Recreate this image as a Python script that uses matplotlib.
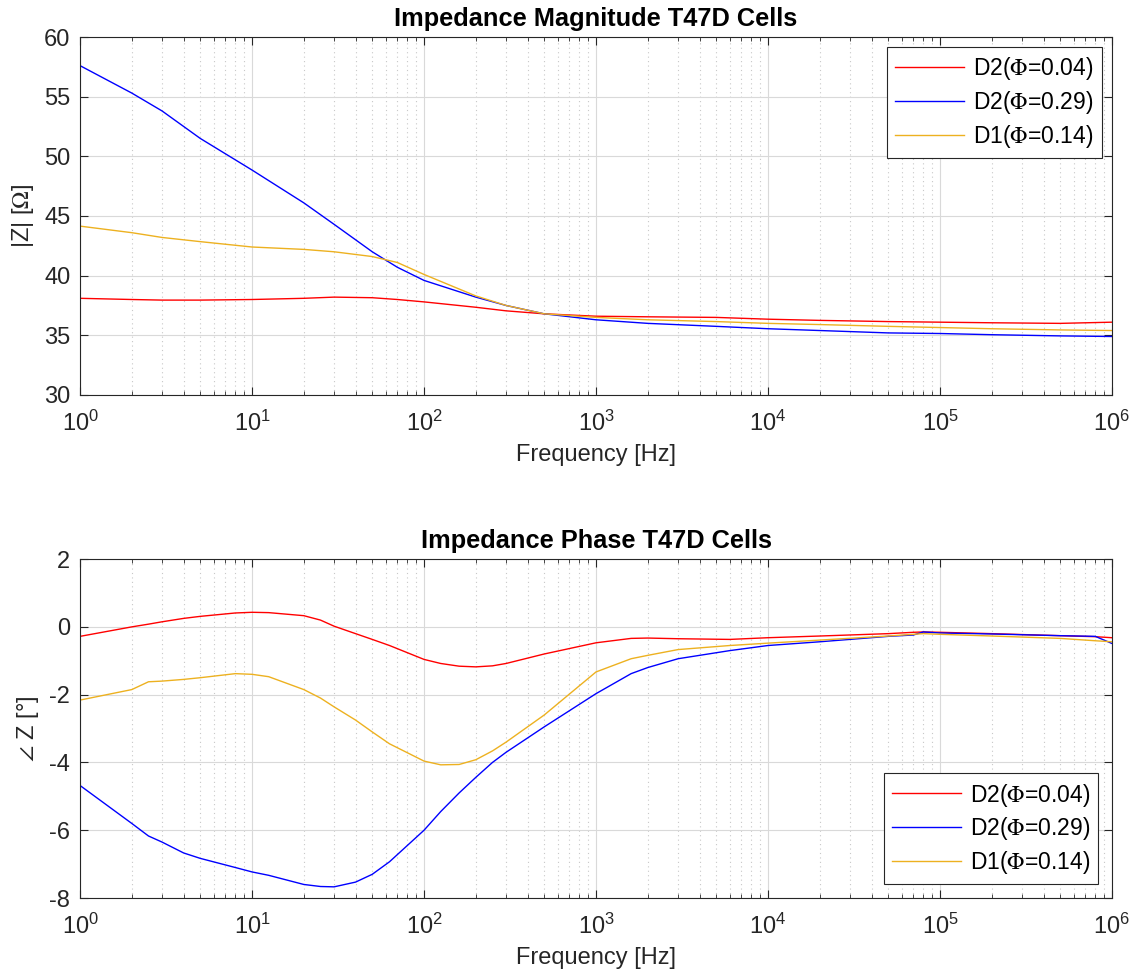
import matplotlib
matplotlib.use("Agg")
import matplotlib.pyplot as plt
from matplotlib.ticker import LogLocator, NullFormatter, MultipleLocator

plt.rcParams['font.family'] = ['Liberation Sans', 'DejaVu Sans']
plt.rcParams['mathtext.fontset'] = 'stix'
plt.rcParams['axes.unicode_minus'] = False

# ---------------- data ----------------
mag_freq = [1, 2, 3, 5, 10, 20, 30, 50, 70, 100, 200, 300, 500, 1e3, 2e3,
            5e3, 1e4, 2e4, 5e4, 1e5, 2e5, 5e5, 1e6]
mag_d2_004 = [38.1, 38.0, 37.95, 37.95, 38.0, 38.1, 38.2, 38.15, 38.0, 37.8, 37.35,
              37.05, 36.8, 36.6, 36.55, 36.5, 36.35, 36.25, 36.15, 36.1, 36.05, 36.0, 36.1]
mag_d2_029 = [57.6, 55.3, 53.8, 51.5, 48.85, 46.1, 44.3, 42.0, 40.7, 39.6, 38.2,
              37.5, 36.8, 36.3, 36.0, 35.75, 35.55, 35.4, 35.2, 35.15, 35.05, 34.95, 34.9]
mag_d1_014 = [44.15, 43.6, 43.2, 42.85, 42.4, 42.2, 42.0, 41.6, 41.1, 40.1, 38.3,
              37.5, 36.8, 36.5, 36.3, 36.15, 36.0, 35.9, 35.75, 35.65, 35.55, 35.45, 35.4]

ph_freq = [1, 2, 2.5, 3, 4, 5, 8, 10, 12.5, 20, 25, 30, 40, 50, 63, 100, 125, 160,
           200, 250, 300, 500, 1e3, 1.6e3, 2e3, 3e3, 6e3, 1e4, 2e4, 5e4, 7e4, 8e4,
           1e5, 2e5, 5e5, 8e5, 1e6]
ph_d2_004 = [-0.28, 0.0, 0.08, 0.15, 0.25, 0.31, 0.41, 0.43, 0.42, 0.33, 0.2, 0.02,
             -0.2, -0.37, -0.55, -0.96, -1.08, -1.16, -1.18, -1.15, -1.08, -0.8, -0.47,
             -0.34, -0.33, -0.35, -0.37, -0.32, -0.27, -0.2, -0.16, -0.15, -0.16, -0.2,
             -0.26, -0.29, -0.32]
ph_d2_029 = [-4.68, -5.8, -6.17, -6.35, -6.67, -6.83, -7.1, -7.23, -7.33, -7.6, -7.66,
             -7.67, -7.53, -7.3, -6.93, -6.0, -5.45, -4.9, -4.44, -4.0, -3.7, -2.95,
             -1.97, -1.38, -1.2, -0.94, -0.7, -0.55, -0.44, -0.28, -0.24, -0.15, -0.18,
             -0.21, -0.26, -0.28, -0.49]
ph_d1_014 = [-2.16, -1.85, -1.62, -1.6, -1.55, -1.5, -1.38, -1.40, -1.47, -1.85, -2.1,
             -2.36, -2.75, -3.1, -3.45, -3.96, -4.07, -4.06, -3.92, -3.66, -3.4, -2.6,
             -1.33, -0.94, -0.84, -0.67, -0.55, -0.48, -0.39, -0.27, -0.22, -0.2, -0.22,
             -0.27, -0.34, -0.41, -0.44]

labels = [r'D2($\Phi$=0.04)', r'D2($\Phi$=0.29)', r'D1($\Phi$=0.14)']
colors = ['#ff0000', '#0000ff', '#edb120']

fig = plt.figure(figsize=(11.37, 9.74), dpi=100)
ax1 = fig.add_axes([0.0704, 0.5945, 0.9076, 0.3675])
ax2 = fig.add_axes([0.0704, 0.078, 0.9076, 0.348])

dark = '#262626'


def style(ax):
    ax.set_xscale('log')
    ax.set_xlim(1, 1e6)
    ax.xaxis.set_major_locator(LogLocator(base=10, numticks=10))
    ax.xaxis.set_minor_locator(LogLocator(base=10, subs=range(2, 10), numticks=10))
    ax.xaxis.set_minor_formatter(NullFormatter())
    ax.grid(True, which='major', color='#d9d9d9', linewidth=0.8)
    ax.grid(True, which='minor', axis='x', color='#c8c8c8', linestyle=(0, (1, 3)), linewidth=0.8)
    ax.set_axisbelow(True)
    ax.tick_params(which='both', direction='in', top=True, right=True,
                   colors=dark, labelsize=17, labelcolor=dark)
    ax.tick_params(which='major', length=6, width=0.8)
    ax.tick_params(which='minor', length=3, width=0.6)
    ax.tick_params(axis='x', which='both', pad=11)
    ax.tick_params(axis='y', which='both', pad=7)
    for s in ax.spines.values():
        s.set_color(dark)
        s.set_linewidth(0.8)
    ax.set_xlabel('Frequency [Hz]', fontsize=17, color=dark, labelpad=6)


ax1.plot(mag_freq, mag_d2_004, color=colors[0], lw=1.0, label=labels[0])
ax1.plot(mag_freq, mag_d2_029, color=colors[1], lw=1.0, label=labels[1])
ax1.plot(mag_freq, mag_d1_014, color=colors[2], lw=1.0, label=labels[2])
style(ax1)
ax1.set_ylim(30, 60)
ax1.yaxis.set_major_locator(MultipleLocator(5))
ax1.set_ylabel(r'|Z| [$\Omega$]', fontsize=17, color=dark, labelpad=6)
ax1.set_title('Impedance Magnitude T47D Cells', fontsize=18.3, fontweight='bold', pad=8)
leg1 = ax1.legend(loc='upper right', fontsize=16.5, fancybox=False, edgecolor=dark,
                  framealpha=1, handlelength=3.0, handletextpad=0.4, borderpad=0.35,
                  labelspacing=0.3, borderaxespad=0.45)
leg1.get_frame().set_linewidth(0.8)

ax2.plot(ph_freq, ph_d2_004, color=colors[0], lw=1.0, label=labels[0])
ax2.plot(ph_freq, ph_d2_029, color=colors[1], lw=1.0, label=labels[1])
ax2.plot(ph_freq, ph_d1_014, color=colors[2], lw=1.0, label=labels[2])
style(ax2)
ax2.set_ylim(-8, 2)
ax2.yaxis.set_major_locator(MultipleLocator(2))
ax2.set_ylabel(r'$\angle$ Z [°]', fontsize=17, color=dark, labelpad=6)
ax2.set_title('Impedance Phase T47D Cells', fontsize=18.3, fontweight='bold', pad=8)
leg2 = ax2.legend(loc='lower right', fontsize=16.5, fancybox=False, edgecolor=dark,
                  framealpha=1, handlelength=3.0, handletextpad=0.4, borderpad=0.35,
                  labelspacing=0.3, borderaxespad=0.6)
leg2.get_frame().set_linewidth(0.8)

fig.savefig('out.png', dpi=100)
